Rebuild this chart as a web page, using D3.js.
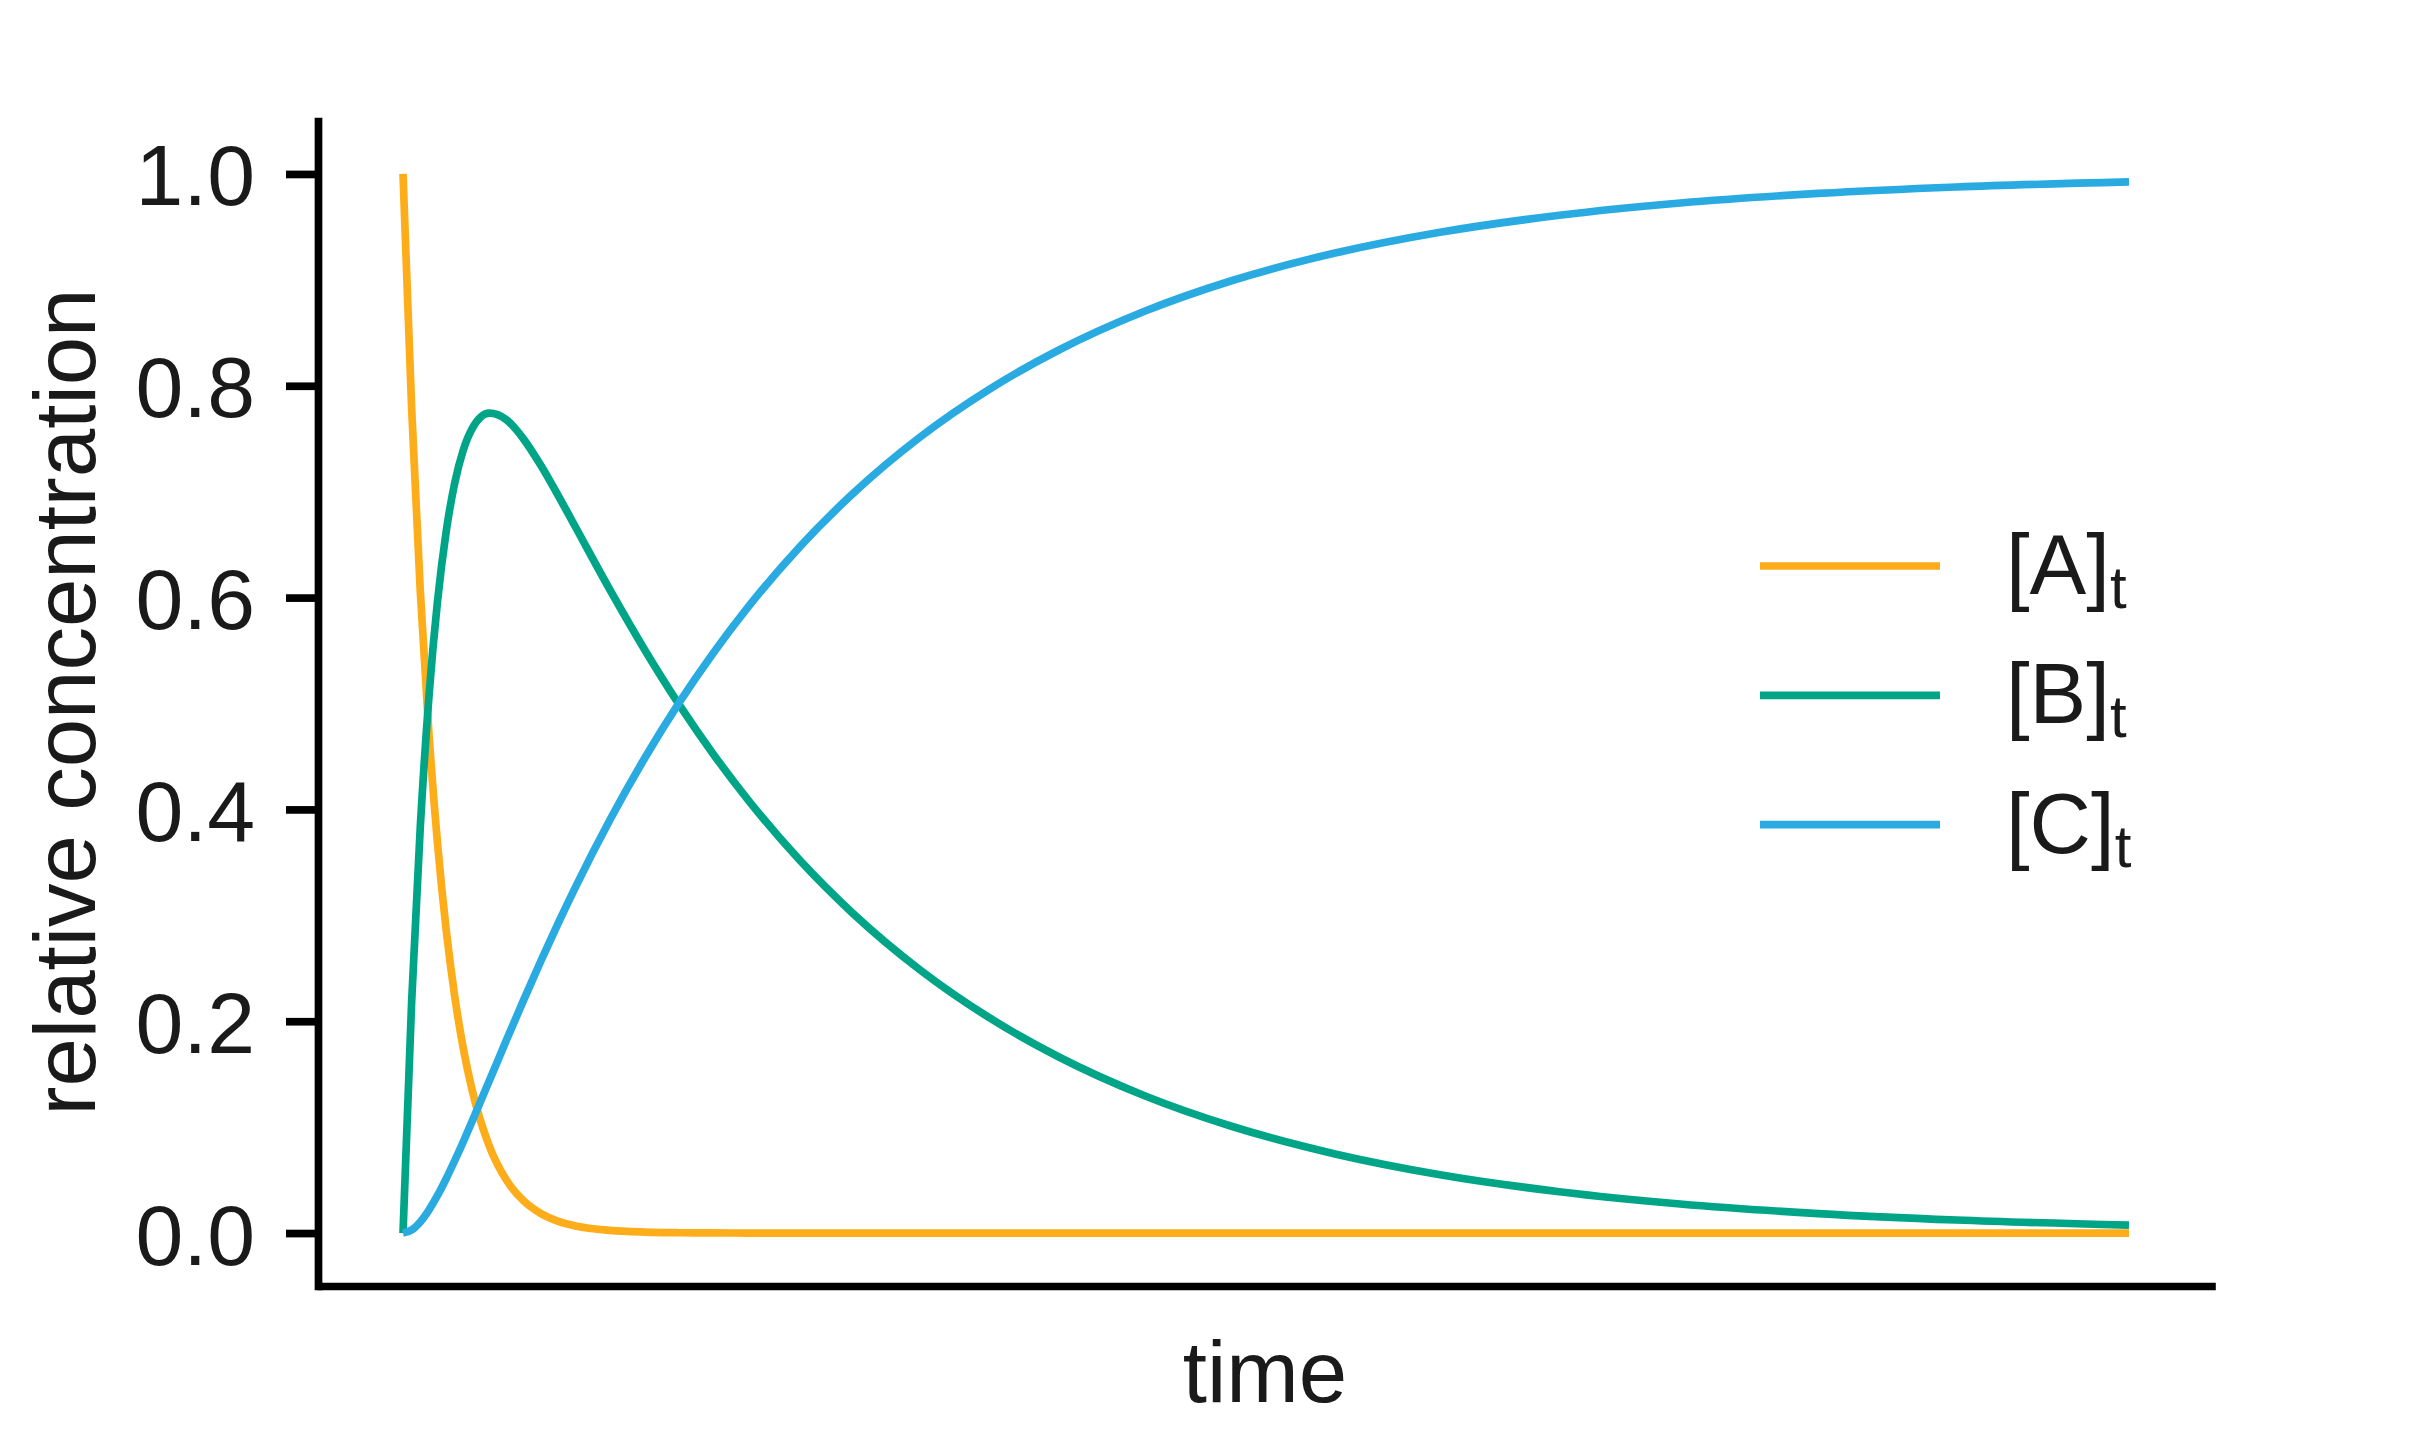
<!DOCTYPE html>
<meta charset="utf-8">
<style>
	body {
		margin: 0;
		background: #ffffff;
	}

	svg text {
		font-family: "Liberation Sans", Arial, Helvetica, sans-serif;
		fill: #1a1a1a;
	}
</style>
<svg width="2414" height="1452"></svg>
<script src="https://d3js.org/d3.v7.min.js"></script>
<script>
	// time points (arbitrary units) and relative concentrations
	var time = [0, 0.05, 0.1, 0.15, 0.2, 0.25, 0.3, 0.35, 0.4, 0.5, 0.6, 0.7, 0.8, 0.9, 1.0,
		1.2, 1.4, 1.6, 1.8, 2.0, 2.3, 2.6, 3.0, 3.4, 3.8, 4.3, 4.8, 5.4, 6.0, 6.7, 7.4, 8.2, 9.0, 10.0]

	var concA = [1, 0.7788, 0.6065, 0.4724, 0.3679, 0.2865, 0.2231, 0.1738, 0.1353, 0.0821, 0.0498,
		0.0302, 0.0183, 0.0111, 0.0067, 0.0025, 0.0009, 0.0003, 0.0001, 0, 0, 0, 0, 0, 0, 0, 0,
		0, 0, 0, 0, 0, 0, 0]

	var concB = [0, 0.2183, 0.3830, 0.5059, 0.5966, 0.6622, 0.7084, 0.7397, 0.7593, 0.7741, 0.7678,
		0.7494, 0.7244, 0.6961, 0.6664, 0.6070, 0.5508, 0.4989, 0.4517, 0.4088, 0.3518, 0.3028,
		0.2479, 0.2030, 0.1662, 0.1294, 0.1008, 0.0747, 0.0553, 0.0390, 0.0274, 0.0184, 0.0123, 0.0075]

	var concC = [0, 0.0029, 0.0105, 0.0217, 0.0355, 0.0513, 0.0685, 0.0865, 0.1054, 0.1438, 0.1824,
		0.2204, 0.2573, 0.2928, 0.3269, 0.3905, 0.4483, 0.5008, 0.5482, 0.5912, 0.6482, 0.6972,
		0.7521, 0.7970, 0.8338, 0.8706, 0.8992, 0.9253, 0.9447, 0.9610, 0.9726, 0.9816, 0.9877, 0.9925]

	var seriesNames = ['A', 'B', 'C']
	var seriesColors = ['#fdad1a', '#00a587', '#29abe2']
	var yTicks = [0, 0.2, 0.4, 0.6, 0.8, 1.0]

	var series = [concA, concB, concC].map(function (vals, i) {
		return {
			name: seriesNames[i],
			color: seriesColors[i],
			values: vals.map(function (v, j) {
				return { t: time[j], c: v }
			})
		}
	})

	var svg = d3.select('svg')
	var lw = 7.7

	// matplotlib-like 5% margins around the data
	var x = d3.scaleLinear().domain([-0.5, 10.5]).range([316.7, 2215.3]),
		y = d3.scaleLinear().domain([-0.05, 1.05]).range([1286, 121])

	// x axis: spine only, no ticks
	var gx = svg.append('g')
		.attr('transform', 'translate(0,1286)')
		.call(d3.axisBottom(x).tickValues([]).tickSizeOuter(0))
	gx.select('.domain')
		.attr('stroke', '#000')
		.attr('stroke-width', lw)

	// y axis
	var gy = svg.append('g')
		.attr('transform', 'translate(318,0)')
		.call(d3.axisLeft(y).tickValues(yTicks).tickSize(32).tickSizeOuter(0).tickPadding(31)
			.tickFormat(d3.format('.1f')))
	gy.select('.domain')
		.attr('stroke', '#000')
		.attr('stroke-width', lw)
		.attr('stroke-linecap', 'square')
	gy.selectAll('.tick line')
		.attr('stroke', '#000')
		.attr('stroke-width', lw)
	gy.selectAll('.tick text')
		.attr('fill', '#1a1a1a')
		.style('font-family', '"Liberation Sans", Arial, Helvetica, sans-serif')
		.style('font-size', '86px')
		.attr('dy', '0.36em')

	// curves
	var line = d3.line()
		.x(function (d) { return x(d.t) })
		.y(function (d) { return y(d.c) })
		.curve(d3.curveMonotoneX)

	svg.append('g')
		.selectAll('path')
		.data(series)
		.join('path')
		.attr('fill', 'none')
		.attr('stroke', function (d) { return d.color })
		.attr('stroke-width', lw)
		.attr('stroke-linejoin', 'round')
		.attr('d', function (d) { return line(d.values) })

	// axis titles
	svg.append('text')
		.attr('x', 1265)
		.attr('y', 1402)
		.attr('text-anchor', 'middle')
		.style('font-size', '87px')
		.text('time')

	svg.append('text')
		.attr('transform', 'translate(95,702) rotate(-90)')
		.attr('text-anchor', 'middle')
		.style('font-size', '87px')
		.text('relative concentration')

	// legend
	var legend = svg.append('g')
		.selectAll('g')
		.data(series)
		.join('g')
		.attr('transform', function (d, i) { return 'translate(0,' + (566 + i * 129.3) + ')' })

	legend.append('line')
		.attr('x1', 1760)
		.attr('x2', 1940)
		.attr('stroke', function (d) { return d.color })
		.attr('stroke-width', lw)

	var lt = legend.append('text')
		.attr('x', 2006)
		.attr('y', 28)
		.style('font-size', '85px')
	lt.append('tspan').text(function (d) { return '[' + d.name + ']' })
	lt.append('tspan')
		.attr('dy', 14)
		.style('font-size', '60px')
		.text('t')
</script>
